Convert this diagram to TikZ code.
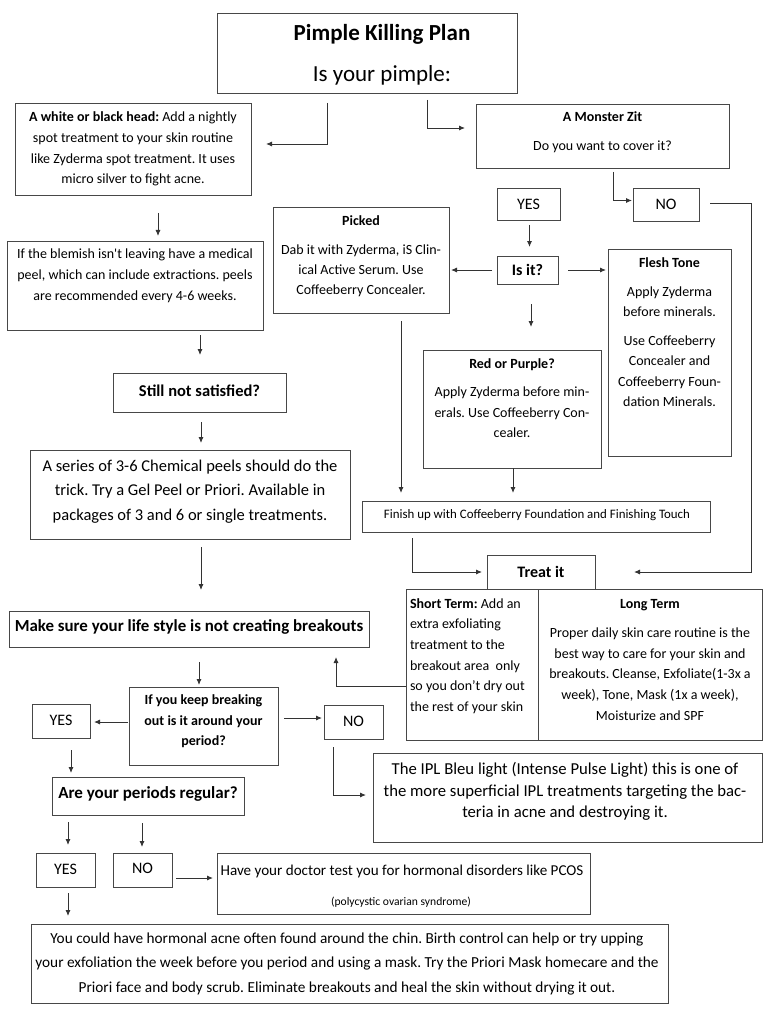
\documentclass[tikz,border=0pt]{standalone}
\usepackage{fontspec}
\setmainfont{Carlito}
\usetikzlibrary{calc,arrows.meta}
\begin{document}
\frenchspacing
\begin{tikzpicture}[x=1pt,y=-1pt,
  box/.style={draw=black!72, line width=0.9pt, anchor=north west, inner sep=0pt, outer sep=0pt},
  txt/.style={inner sep=0pt, outer sep=0pt, align=center, text=black},
  ltxt/.style={inner sep=0pt, outer sep=0pt, align=left, anchor=west, text=black},
  fb/.style={font=\fontsize{14}{20.7}\selectfont},
  fl/.style={font=\fontsize{16.5}{24.5}\selectfont},
  arr/.style={draw=black!80, line width=0.9pt, -{Latex[length=6pt,width=5pt]}},
  ln/.style={draw=black!80, line width=0.9pt}]
\useasboundingbox (0,0) rectangle (769,1024);
\fill[white] (0,0) rectangle (769,1024);

% boxes
\node[box, minimum width=300pt, minimum height=80pt] (title) at (217,13) {};
\node[box, minimum width=236pt, minimum height=92pt] (white) at (15,103) {};
\node[box, minimum width=253pt, minimum height=64pt] (monster) at (476,104) {};
\node[box, minimum width=66pt, minimum height=33pt] (noA) at (633,188) {};
\node[box, minimum width=63pt, minimum height=32pt] (yesA) at (497,188) {};
\node[box, minimum width=61pt, minimum height=28pt] (isit) at (497,256) {};
\node[box, minimum width=176pt, minimum height=106pt] (picked) at (273,207) {};
\node[box, minimum width=123pt, minimum height=207pt] (flesh) at (608,249) {};
\node[box, minimum width=178pt, minimum height=118pt] (red) at (423,350) {};
\node[box, minimum width=348pt, minimum height=31pt] (finish) at (362,501) {};
\node[box, minimum width=108pt, minimum height=34pt] (treat) at (487,555) {};
\node[box, minimum width=132pt, minimum height=151pt] (short) at (406,589) {};
\node[box, minimum width=224pt, minimum height=151pt] (long) at (538,589) {};
\node[box, minimum width=256pt, minimum height=89pt] (blemish) at (7,241) {};
\node[box, minimum width=173pt, minimum height=39pt] (still) at (113,373) {};
\node[box, minimum width=320pt, minimum height=89pt] (series) at (30,450) {};
\node[box, minimum width=360pt, minimum height=36pt] (makesure) at (9,611) {};
\node[box, minimum width=149pt, minimum height=78pt] (ifkeep) at (129,687) {};
\node[box, minimum width=58pt, minimum height=34pt] (yes2) at (32,704) {};
\node[box, minimum width=59pt, minimum height=34pt] (no2) at (324,705) {};
\node[box, minimum width=389pt, minimum height=89pt] (ipl) at (373,753) {};
\node[box, minimum width=192pt, minimum height=38pt] (are) at (52,777) {};
\node[box, minimum width=59pt, minimum height=34pt] (yes3) at (36,853) {};
\node[box, minimum width=59pt, minimum height=34pt] (no3) at (113,853) {};
\node[box, minimum width=373pt, minimum height=61pt] (doctor) at (217,853) {};
\node[box, minimum width=637pt, minimum height=79pt] (bottom) at (31,924) {};

% texts
\node[txt, font=\fontsize{23}{41}\selectfont] (ttitle) at (382,54.5) {\textbf{Pimple Killing Plan}\\Is your pimple:};
\node[txt, fb] (twhite) at (133,149) {\textbf{A white or black head:} Add a nightly\\spot treatment to your skin routine\\like Zyderma spot treatment. It uses\\micro silver to fight acne.};
\node[txt, font=\fontsize{14}{29}\selectfont] (tmonster) at (602.5,132.5) {\textbf{A Monster Zit}\\Do you want to cover it?};
\node[txt, font=\fontsize{16}{19}\selectfont] (tnoA) at (666,204.5) {NO};
\node[txt, font=\fontsize{16}{19}\selectfont] (tyesA) at (528.5,204) {YES};
\node[txt, font=\fontsize{16}{19}\selectfont\bfseries] (tisit) at (527.5,270) {Is it?};
\node[txt, font=\fontsize{14}{20}\selectfont] (tpicked) at (361,256.5) {\textbf{Picked}\\[9pt]Dab it with Zyderma, iS Clin-\\ical Active Serum. Use\\Coffeeberry Concealer.};
\node[txt, font=\fontsize{14}{20.5}\selectfont] (tflesh) at (669.5,332.5) {\textbf{Flesh Tone}\\[8pt]Apply Zyderma\\before minerals.\\[8pt]Use Coffeeberry\\Concealer and\\Coffeeberry Foun-\\dation Minerals.};
\node[txt, font=\fontsize{14}{20.5}\selectfont] (tred) at (512,398.5) {\textbf{Red or Purple?}\\[7.5pt]Apply Zyderma before min-\\erals. Use Coffeeberry Con-\\cealer.};
\node[txt, font=\fontsize{12.9}{14}\selectfont] (tfinish) at (537,515) {Finish up with Coffeeberry Foundation and Finishing Touch};
\node[txt, font=\fontsize{16}{19}\selectfont\bfseries] (ttreat) at (541,572) {Treat it};
\node[ltxt, fb] (tshort) at (410,656) {\textbf{Short Term:} Add an\\extra exfoliating\\treatment to the\\breakout area\ \ only\\so you don’t dry out\\the rest of your skin};
\node[txt, font=\fontsize{14}{20.75}\selectfont] (tlong) at (650,660) {\textbf{Long Term}\\[8pt]Proper daily skin care routine is the\\best way to care for your skin and\\breakouts. Cleanse, Exfoliate(1-3x a\\week), Tone, Mask (1x a week),\\Moisturize and SPF};
\node[txt, font=\fontsize{14}{21}\selectfont] (tblemish) at (135,276) {If the blemish isn\textquotesingle t leaving have a medical\\peel, which can include extractions. peels\\are recommended every 4-6 weeks.};
\node[txt, font=\fontsize{16.5}{20}\selectfont\bfseries] (tstill) at (199.5,391) {Still not satisfied?};
\node[txt, fl] (tseries) at (190,491.5) {A series of 3-6 Chemical peels should do the\\trick. Try a Gel Peel or Priori. Available in\\packages of 3 and 6 or single treatments.};
\node[txt, font=\fontsize{16.9}{20}\selectfont\bfseries] (tmakesure) at (189,627) {Make sure your life style is not creating breakouts};
\node[txt, font=\fontsize{14}{20.5}\selectfont\bfseries] (tifkeep) at (203.5,721.5) {If you keep breaking\\out is it around your\\period?};
\node[txt, font=\fontsize{16}{19}\selectfont] (tyes2) at (61,720) {YES};
\node[txt, font=\fontsize{16}{19}\selectfont] (tno2) at (353.5,721) {NO};
\node[txt, font=\fontsize{16.7}{21.5}\selectfont] (tipl) at (565,791.5) {The IPL Bleu light (Intense Pulse Light) this is one of\\the more superficial IPL treatments targeting the bac-\\teria in acne and destroying it.};
\node[txt, font=\fontsize{17}{20}\selectfont\bfseries] (tare) at (148,794) {Are your periods regular?};
\node[txt, font=\fontsize{16}{19}\selectfont] (tyes3) at (65.5,869) {YES};
\node[txt, font=\fontsize{16}{19}\selectfont] (tno3) at (142.5,868) {NO};
\node[txt, font=\fontsize{15.1}{19}\selectfont] (tdoc1) at (402,871) {Have your doctor test you for hormonal disorders like PCOS};
\node[txt, font=\fontsize{11.6}{13}\selectfont] (tdoc2) at (401,902) {(polycystic ovarian syndrome)};
\node[txt, font=\fontsize{15.3}{24.5}\selectfont] (tbottom) at (347,963.5) {You could have hormonal acne often found around the chin. Birth control can help or try upping\\your exfoliation the week before you period and using a mask. Try the Priori Mask homecare and the\\Priori face and body scrub. Eliminate breakouts and heal the skin without drying it out.};

% connectors
\draw[arr] ($(title.south west)+(110,10)$) |- ($(white.north east)+(15,41)$);
\draw[arr] ($(title.south west)+(210,7)$) |- ($(monster.north west)+(-11,24)$);
\draw[arr] ($(monster.south west)+(137,4)$) |- ($(noA.west)+(-1,-4)$);
\draw[arr] ($(noA.east)+(11,-1)$) -- ++(41,0) |- ($(treat.east)+(39,0)$);
\draw[arr] ($(yesA.south)+(1,5)$) -- ($(isit.north)+(2,-9)$);
\draw[arr] ($(isit.west)+(-5,0)$) -- ($(picked.east |- isit.west)+(2,0)$);
\draw[arr] ($(isit.east)+(10,0)$) -- ($(flesh.west |- isit.east)+(-2,0)$);
\draw[arr] ($(isit.south)+(3.5,20)$) -- ($(red.north)+(19,-23)$);
\draw[arr] ($(picked.south)+(40,8)$) -- ($(finish.north west)+(39,-8)$);
\draw[arr] ($(red.south)+(1,0)$) -- ($(finish.north west)+(151,-8)$);
\draw[arr] ($(finish.south west)+(50,6)$) |- ($(treat.west)+(-5,0)$);
\draw[arr] ($(white.south)+(25,18)$) -- ($(blemish.north)+(23,-5)$);
\draw[arr] ($(blemish.south)+(65,5)$) -- ($(still.north)+(0.5,-18)$);
\draw[arr] ($(still.south)+(1.5,10)$) -- ($(series.north)+(11,-7)$);
\draw[arr] ($(series.south)+(11,8)$) -- ($(makesure.north)+(12,-21)$);
\draw[arr] ($(short.south west)+(0,-54)$) -| ($(makesure.south east)+(-33,10)$);
\draw[arr] ($(makesure.south)+(10,15)$) -- ($(ifkeep.north)+(-4.5,-2)$);
\draw[arr] ($(ifkeep.west)+(-1,-4)$) -- ($(yes2.east |- ifkeep.west)+(4,-4)$);
\draw[arr] ($(ifkeep.east)+(6,-8)$) -- ($(no2.west |- ifkeep.east)+(-2,-8)$);
\draw[arr] ($(no2.south west)+(9,8)$) |- ($(ipl.west)+(-7,-2.5)$);
\draw[arr] ($(yes2.south)+(10,12)$) -- ($(are.north)+(-77,-4)$);
\draw[arr] ($(are.south west)+(16,7)$) -- ($(yes3.north)+(2.5,-8)$);
\draw[arr] ($(are.south west)+(90,8)$) -- ($(no3.north)+(-0.5,-6)$);
\draw[arr] ($(no3.east)+(4,8)$) -- ($(doctor.west)+(-4,-5.5)$);
\draw[arr] ($(yes3.south)+(2.5,6)$) -- ($(bottom.north west)+(37,-8)$);
\end{tikzpicture}
\end{document}
